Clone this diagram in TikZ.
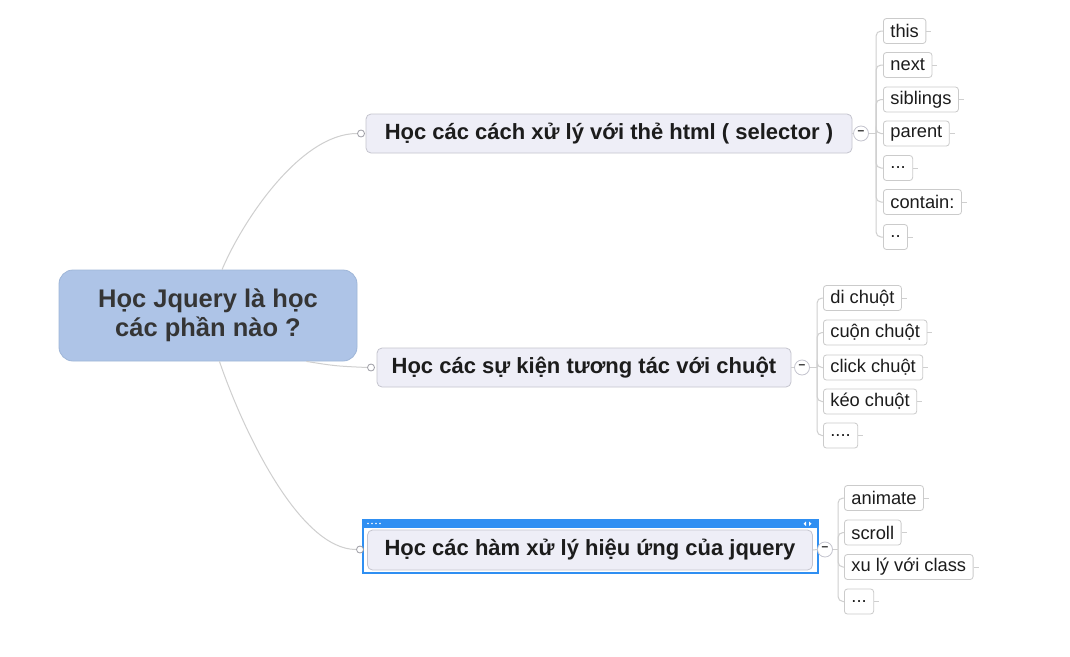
\documentclass[tikz,border=0pt]{standalone}
\usepackage{fontspec}
\setmainfont{Liberation Sans}
\usetikzlibrary{shapes.geometric}
\definecolor{mainfill}{HTML}{AEC4E7}
\definecolor{mainborder}{HTML}{9FB6D8}
\definecolor{brfill}{HTML}{EEEEF7}
\definecolor{brborder}{HTML}{C4C4CE}
\definecolor{lnk}{HTML}{CFCFCF}
\definecolor{leafborder}{HTML}{CBCBCB}
\definecolor{txt}{HTML}{1C1C1C}
\definecolor{maintxt}{HTML}{353535}
\definecolor{selblue}{HTML}{2F8FF2}
\tikzset{
  x=1pt, y=-1pt,
  mainbox/.style={draw=mainborder, fill=mainfill, rounded corners=14pt, line width=0.8pt,
     minimum width=298pt, minimum height=91pt, align=center, text=maintxt,
     font=\bfseries\fontsize{25.5}{29}\selectfont},
  branch/.style={draw=brborder, fill=brfill, rounded corners=5pt, line width=0.8pt,
     minimum height=39pt, text=txt, font=\bfseries\fontsize{22}{25}\selectfont},
  leaf/.style={draw=leafborder, fill=white, rounded corners=3pt, line width=0.8pt,
     anchor=west, minimum height=25pt, inner xsep=7pt, text=txt,
     font=\fontsize{18.3}{21}\selectfont},
  conn/.style={draw=lnk, line width=1pt},
  dot/.style={circle, draw=brborder!80!black, fill=white, inner sep=0pt, minimum size=7pt, line width=0.8pt},
  minus/.style={circle, draw=brborder, fill=white, inner sep=0pt, minimum size=15pt, line width=0.8pt,
     font=\bfseries\fontsize{12}{12}\selectfont, text=txt},
  tick/.style={draw=lnk, line width=1pt},
}
\begin{document}
\begin{tikzpicture}
\useasboundingbox (0,0) rectangle (1070,656);
\fill[white] (0,0) rectangle (1070,656);

% main node
\node[mainbox] (main) at (208,315.5) {Học Jquery là học\\các phần nào ?};

% branches
\node[branch, minimum width=486pt] (b1) at (609,133.5) {Học các cách xử lý với thẻ html ( selector )};
\node[branch, minimum width=414pt] (b2) at (584,367.5) {Học các sự kiện tương tác với chuột};
% selection frame for third branch
\draw[selblue, line width=1.6pt] (363,520) rectangle (818,573);
\fill[selblue] (363,520) rectangle (818,528);
\foreach \i in {0,1,2,3} \fill[white] (368+\i*4,523.5) circle (0.9pt);
\fill[white] (806,521.5) -- (806,526) -- (803.5,523.75) -- cycle;
\fill[white] (809,521.5) -- (809,526) -- (811.5,523.75) -- cycle;
\node[branch, minimum width=445pt, minimum height=40pt] (b3) at (590,550) {Học các hàm xử lý hiệu ứng của jquery};

% entry dots
\node[dot] (c1) at (361,133.5) {};
\node[dot] (c2) at (371,367.5) {};
\node[dot] (c3) at (360,549.5) {};

% main connectors
\draw[conn] (main.73) .. controls (242,222) and (300,133.5) .. (c1.west);
\draw[conn] (main.-25) .. controls (335,366) .. (c2.west);
\draw[conn] (main.-76) .. controls (244,433) and (300,549.5) .. (c3.west);

% collapse markers
\node[minus] (m1) at (861,133.5) {\raisebox{1pt}{--}};
\node[minus] (m2) at (802,367.5) {\raisebox{1pt}{--}};
\node[minus] (m3) at (825,549.5) {\raisebox{1pt}{--}};
\draw[conn] (b1.east) -- (m1.west);
\draw[conn] (b2.east) -- (m2.west);
\draw[conn] (b3.east) -- (m3.west);

% junctions
\coordinate (j1) at (876,133.5);
\coordinate (j2) at (817,367.5);
\coordinate (j3) at (838,549.5);
\draw[conn] (m1.east) -- (j1);
\draw[conn] (m2.east) -- (j2);
\draw[conn] (m3.east) -- (j3);

% leaves branch 1
\node[leaf] (l11) at (883,31) {this};
\node[leaf] (l12) at (883,65) {next};
\node[leaf] (l13) at (883,99.5) {siblings};
\node[leaf] (l14) at (883,133.5) {parent};
\node[leaf] (l15) at (883,168) {...};
\node[leaf] (l16) at (883,202) {contain:};
\node[leaf] (l17) at (883,237) {..};
% leaves branch 2
\node[leaf] (l21) at (823,298) {di chuột};
\node[leaf] (l22) at (823,332.5) {cuộn chuột};
\node[leaf] (l23) at (823,367.5) {click chuột};
\node[leaf] (l24) at (823,401.5) {kéo chuột};
\node[leaf] (l25) at (823,435.5) {....};
% leaves branch 3
\node[leaf] (l31) at (844,498) {animate};
\node[leaf] (l32) at (844,532.5) {scroll};
\node[leaf] (l33) at (844,567) {xu lý với class};
\node[leaf] (l34) at (844,601.5) {...};

% bracket connectors
\foreach \l in {l11,l12,l13,l14,l15,l16,l17}
  \draw[conn, rounded corners=5pt] (j1) |- (\l.west);
\foreach \l in {l21,l22,l23,l24,l25}
  \draw[conn, rounded corners=5pt] (j2) |- (\l.west);
\foreach \l in {l31,l32,l33,l34}
  \draw[conn, rounded corners=5pt] (j3) |- (\l.west);

% right ticks
\foreach \l in {l11,l12,l13,l14,l15,l16,l17,l21,l22,l23,l24,l25,l31,l32,l33,l34}
  \draw[tick] (\l.east) -- ++(5,0);
\end{tikzpicture}
\end{document}
